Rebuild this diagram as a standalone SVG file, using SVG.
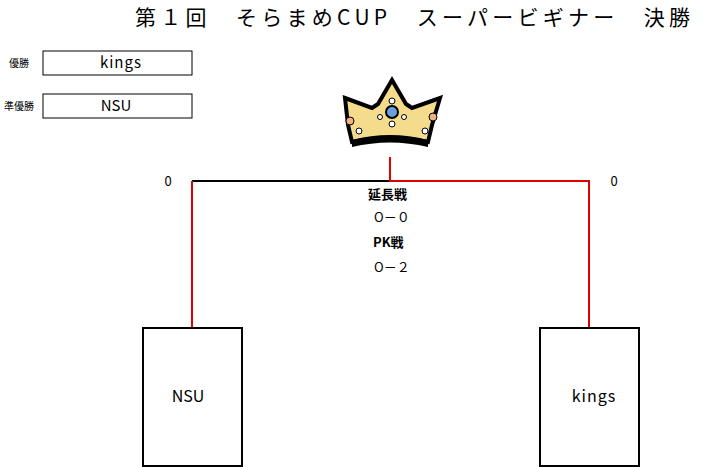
<svg xmlns="http://www.w3.org/2000/svg" width="720" height="467" viewBox="0 0 720 467">
<style>
text{font-family:"Noto Sans CJK JP","DejaVu Sans",sans-serif;fill:#000}
.box{fill:#fff;stroke:#000}
.r{stroke:#e00000;stroke-width:2;fill:none}
</style>
<rect width="720" height="467" fill="#fff"/>
<text x="135" y="25" font-size="21" textLength="555" lengthAdjust="spacing">第１回　そらまめCUP　スーパービギナー　決勝</text>
<g id="winner"><text x="19" y="67" font-size="10" text-anchor="middle">優勝</text><rect class="box" x="43" y="51" width="149" height="24"/><text x="121" y="68" font-size="15" text-anchor="middle" letter-spacing="1">kings</text></g>
<g id="runner"><text x="19" y="110" font-size="10" text-anchor="middle">準優勝</text><rect class="box" x="43" y="94" width="149" height="24"/><text x="116" y="111" font-size="15" text-anchor="middle">NSU</text></g>
<g id="crown">
<path d="M345 98 L372 108 L378 104 L392 80 L406 104 L412 108 L440 98 L432 125 L428 142 Q390 134 352 142 L348 125 Z" fill="#f5dc8c" stroke="#000" stroke-width="4"/>
<path d="M352 140 Q390 130 428 140 L428 147 Q390 138 352 147 Z" fill="#000"/>
<circle cx="392" cy="112" r="6" fill="#6aa0e0" stroke="#000" stroke-width="2"/>
<circle cx="392" cy="101" r="3" fill="#fff" stroke="#000"/><circle cx="392" cy="124" r="3" fill="#fff" stroke="#000"/>
<circle cx="350" cy="121" r="4" fill="#f0b080" stroke="#000"/><circle cx="433" cy="117" r="4" fill="#f0b080" stroke="#000"/>
<circle cx="359" cy="131" r="3" fill="#fff" stroke="#000"/><circle cx="425" cy="131" r="3" fill="#fff" stroke="#000"/>
<circle cx="380" cy="117" r="2.5" fill="#fff" stroke="#000"/><circle cx="404" cy="117" r="2.5" fill="#fff" stroke="#000"/>
</g>
<g id="connectors">
<line x1="192" y1="181" x2="390" y2="181" stroke="#000" stroke-width="2"/>
<path class="r" d="M390 157 V181 H589 V327"/>
<path class="r" d="M192 181 V327"/>
</g>
<g id="scores"><text x="168" y="186" font-size="13" text-anchor="middle">0</text><text x="614" y="186" font-size="13" text-anchor="middle">0</text>
<text x="368" y="199" font-size="13" font-weight="bold">延長戦</text>
<text x="374" y="222" font-size="13">O－０</text>
<text x="373" y="247" font-size="13" font-weight="bold">PK戦</text>
<text x="374" y="272" font-size="13">O－２</text></g>
<g id="nsu"><rect class="box" x="143" y="328" width="99" height="138" stroke-width="2"/><text x="188" y="402" font-size="16" text-anchor="middle">NSU</text></g>
<g id="kings"><rect class="box" x="540" y="328" width="99" height="138" stroke-width="2"/><text x="594" y="402" font-size="16" text-anchor="middle" letter-spacing="1">kings</text></g>
</svg>
